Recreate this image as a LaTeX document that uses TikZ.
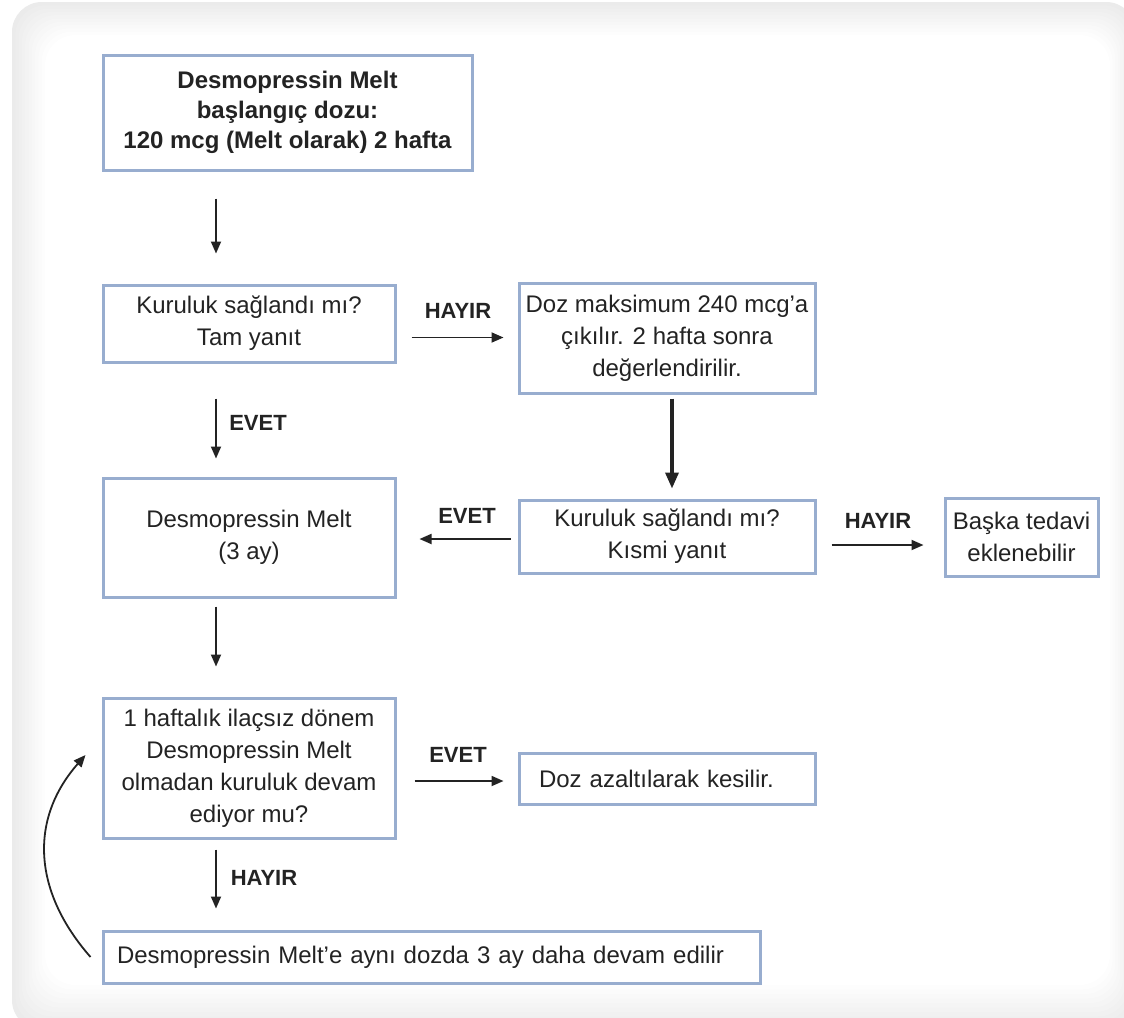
\documentclass[tikz,border=0pt]{standalone}
\usepackage{fontspec}
\setmainfont{Liberation Sans}
\usetikzlibrary{arrows.meta}

\definecolor{boxblue}{RGB}{152,173,207}
\definecolor{inkgray}{RGB}{35,35,35}

\tikzset{
  box/.style={draw=boxblue, line width=1.5pt, align=center, inner sep=0pt,
    text=inkgray, font=\fontsize{12}{16}\selectfont},
  lbl/.style={inner sep=0pt, text=inkgray, font=\bfseries\fontsize{11}{13}\selectfont},
  arr/.style={-{Triangle[length=6pt,width=5pt]}, line width=0.9pt, inkgray},
  thickarr/.style={-{Triangle[length=8pt,width=6.5pt]}, line width=1.7pt, inkgray},
}

\begin{document}
\begin{tikzpicture}[x=0.5pt, y=-0.5pt]
\useasboundingbox (0,0) rectangle (1124,1017);

% panel
\fill[white] (0,0) rectangle (1124,1017);
\foreach \k in {0,...,10} {
  \pgfmathsetmacro\sh{16*(1-\k/10)}
  \fill[gray!\sh, rounded corners=15pt]
    (12+3.3*\k, 2+3.3*\k) rectangle (1136-2.6*\k, 1030-4.5*\k);
}

\coordinate (spine) at (216,0);

% boxes
\node[box, minimum width=184.5pt, minimum height=57.5pt, font=\bfseries\fontsize{12}{15}\selectfont] (start) at (287.5,112.5)
  {Desmopressin Melt\\ başlangıç dozu:\\ 120 mcg (Melt olarak) 2 hafta};
\node[box, minimum width=146pt, minimum height=38.5pt] (tam) at (249,323.5)
  {Kuruluk sağlandı mı?\\ Tam yanıt};
\node[box, minimum width=148pt, minimum height=55pt] (dose) at (667,338)
  {Doz maksimum 240 mcg’a\\ çıkılır. 2 hafta sonra\\ değerlendirilir.};
\node[box, minimum width=146pt, minimum height=59.5pt] (melt) at (249,537.5)
  {Desmopressin Melt\\ (3 ay)};
\node[box, minimum width=148pt, minimum height=36.5pt] (kismi) at (667,536.5)
  {Kuruluk sağlandı mı?\\ Kısmi yanıt};
\node[box, minimum width=76.5pt, minimum height=39pt] (other) at (1021.5,537)
  {Başka tedavi\\ eklenebilir};
\node[box, minimum width=146pt, minimum height=70pt] (pause) at (249,768)
  {1 haftalık ilaçsız dönem\\ Desmopressin Melt\\ olmadan kuruluk devam\\ ediyor mu?};
\node[box, align=left, text width=128pt, inner xsep=10pt, minimum height=25.5pt] (taper) at (667,778.5)
  {Doz azaltılarak kesilir.};
\node[box, align=left, text width=314.5pt, inner xsep=7pt, minimum height=26pt] (cont) at (431.5,957)
  {Desmopressin Melt’e aynı dozda 3 ay daha devam edilir};

% labels
\node[lbl] (noA) at (458,311) {HAYIR};
\node[lbl] (yesA) at (258,423) {EVET};
\node[lbl] (yesB) at (467,516) {EVET};
\node[lbl] (noB) at (878,521) {HAYIR};
\node[lbl] (yesC) at (458,755) {EVET};
\node[lbl] (noC) at (264,878) {HAYIR};

% connectors
\draw[arr, shorten <=13.5pt, shorten >=15pt] (start.south -| spine) -- (tam.north -| spine);
\draw[arr, shorten <=17.5pt, shorten >=9pt] (tam.south -| spine) -- (melt.north -| spine);
\draw[arr, shorten <=4pt, shorten >=15pt] (melt.south -| spine) -- (pause.north -| spine);
\draw[arr, shorten <=5pt, shorten >=10.5pt] (pause.south -| spine) -- (cont.north -| spine);

\draw[arr, shorten <=7.5pt, shorten >=7pt] ([yshift=-7pt]tam.east) -- ([yshift=-7pt]tam.east -| dose.west);
\draw[thickarr, shorten <=2pt, shorten >=5pt] (dose.south) ++(2.5pt,0) coordinate (doseout) -- (doseout |- kismi.north);
\draw[arr, shorten <=3.5pt, shorten >=11.5pt] ([yshift=-1.25pt]kismi.west) -- ([yshift=-1.25pt]kismi.west -| melt.east);
\draw[arr, shorten <=7.5pt, shorten >=10pt] ([yshift=-4.25pt]kismi.east) -- ([yshift=-4.25pt]kismi.east -| other.west);
\draw[arr, shorten <=9pt, shorten >=7pt] ([yshift=-6.5pt]pause.east) -- ([yshift=-6.5pt]pause.east -| taper.west);

\draw[arr] ([xshift=-5.5pt]cont.west) .. controls +(-57,-65) and +(-57,65) .. ([xshift=-8pt,yshift=6.5pt]pause.west);
\end{tikzpicture}
\end{document}
